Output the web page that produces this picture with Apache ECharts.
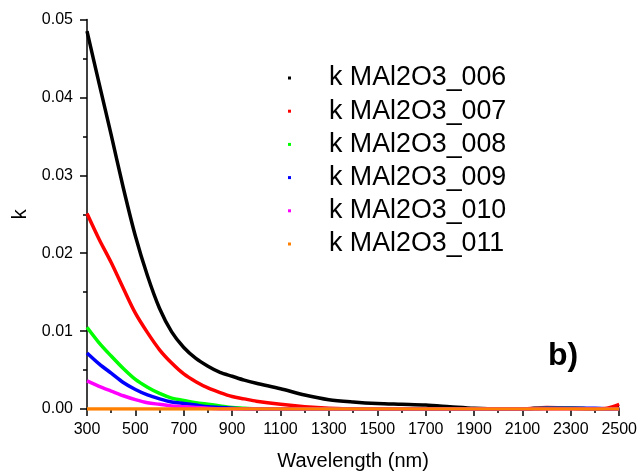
<!DOCTYPE html>
<html>
<head>
<meta charset="utf-8">
<script src="https://cdn.jsdelivr.net/npm/echarts@6/dist/echarts.min.js"></script>
<style>
  html, body { margin: 0; padding: 0; background: #ffffff; }
  #chart { width: 640px; height: 476px; }
</style>
</head>
<body>
<div id="chart"></div>
<script>
// Extinction coefficient k versus wavelength for six MAl2O3 films
const wavelength = [300, 350, 400, 450, 500, 550, 600, 650, 700, 750, 800, 850, 900, 950, 1000,
  1100, 1200, 1300, 1400, 1500, 1600, 1700, 1800, 1900, 2000, 2100, 2200, 2300, 2400, 2450, 2500];

const k006 = [0.0485, 0.0418, 0.0352, 0.0284, 0.0222, 0.0171, 0.0129, 0.0099, 0.0079, 0.0065,
  0.0055, 0.0047, 0.0042, 0.0037, 0.0033,
  0.0026, 0.0018, 0.0012, 0.0009, 0.0007, 0.0006, 0.0005, 0.0003, 0.0001, 0.0000,
  0.0000, 0.0001, 0.0001, 0.0000, 0.0000, 0.0002];
const k007 = [0.0251, 0.0218, 0.0188, 0.0155, 0.0123, 0.0098, 0.0076, 0.0059, 0.0045, 0.0035,
  0.0027, 0.0021, 0.0016, 0.0013, 0.0010,
  0.0006, 0.0003, 0.0001, 0.0000, 0.0000, 0.0000, 0.0000, 0.0000, 0.0000, 0.0000,
  0.0000, 0.0002, 0.0001, 0.0000, 0.0001, 0.0006];
const k008 = [0.0105, 0.0085, 0.0068, 0.0052, 0.0038, 0.0028, 0.0020, 0.0014, 0.0011, 0.0008,
  0.0006, 0.0004, 0.0002, 0.0001, 0.0000,
  0.0000, 0.0000, 0.0000, 0.0000, 0.0000, 0.0000, 0.0000, 0.0000, 0.0000, 0.0000,
  0.0000, 0.0001, 0.0001, 0.0000, 0.0000, 0.0000];
const k009 = [0.0072, 0.0058, 0.0046, 0.0034, 0.0025, 0.0018, 0.0013, 0.0009, 0.0007, 0.0005,
  0.0003, 0.0002, 0.0001, 0.0000, 0.0000,
  0.0000, 0.0000, 0.0000, 0.0000, 0.0000, 0.0000, 0.0000, 0.0000, 0.0000, 0.0000,
  0.0000, 0.0001, 0.0001, 0.0001, 0.0000, 0.0000];
const k010 = [0.0036, 0.0029, 0.0023, 0.0017, 0.0012, 0.0008, 0.0006, 0.0004, 0.0003, 0.0002,
  0.0001, 0.0000, 0.0000, 0.0000, 0.0000,
  0.0000, 0.0000, 0.0000, 0.0000, 0.0000, 0.0000, 0.0000, 0.0000, 0.0000, 0.0000,
  0.0000, 0.0000, 0.0000, 0.0000, 0.0000, 0.0000];
const k011 = [0.0000, 0.0000, 0.0000, 0.0000, 0.0000, 0.0000, 0.0000, 0.0000, 0.0000, 0.0000,
  0.0000, 0.0000, 0.0000, 0.0000, 0.0000,
  0.0000, 0.0000, 0.0000, 0.0000, 0.0000, 0.0000, 0.0000, 0.0000, 0.0000, 0.0000,
  0.0000, 0.0000, 0.0000, 0.0000, 0.0000, 0.0000];

const seriesNames = ['k MAl2O3_006', 'k MAl2O3_007', 'k MAl2O3_008',
  'k MAl2O3_009', 'k MAl2O3_010', 'k MAl2O3_011'];
const seriesValues = [k006, k007, k008, k009, k010, k011];
const seriesColors = ['#000000', '#ff0000', '#00ff00', '#0000ff', '#ff00ff', '#ff8000'];

const FONT = '"Liberation Sans", Arial, Helvetica, sans-serif';

const chart = echarts.init(document.getElementById('chart'), null, { renderer: 'canvas' });

const series = seriesValues.map((vals, i) => ({
  name: seriesNames[i],
  type: 'line',
  data: wavelength.map((w, j) => [w, vals[j]]),
  showSymbol: false,
  smooth: 0.3,
  color: seriesColors[i],
  lineStyle: { width: 3.5, color: seriesColors[i] },
  z: 2 + i,
  animation: false
}));

chart.setOption({
  backgroundColor: '#ffffff',
  animation: false,
  grid: { left: 87, right: 19, top: 19.5, bottom: 64, containLabel: false },
  xAxis: {
    type: 'value',
    min: 300,
    max: 2500,
    interval: 200,
    name: 'Wavelength (nm)',
    nameLocation: 'middle',
    nameGap: 42,
    nameTextStyle: { fontFamily: FONT, fontSize: 20, color: '#000' },
    axisLine: { show: true, onZero: false, lineStyle: { color: '#000', width: 1.5 } },
    axisTick: { show: true, inside: false, length: 7, lineStyle: { color: '#000', width: 1.5 } },
    minorTick: { show: true, splitNumber: 2, length: 4, lineStyle: { color: '#000', width: 1.5 } },
    axisLabel: { fontFamily: FONT, fontSize: 16, color: '#000', margin: 13,
      formatter: v => String(v) },
    splitLine: { show: false }
  },
  yAxis: {
    type: 'value',
    min: 0,
    max: 0.05,
    interval: 0.01,
    name: 'k',
    nameLocation: 'middle',
    nameGap: 56,
    nameRotate: 90,
    nameTextStyle: { fontFamily: FONT, fontSize: 20, color: '#000' },
    axisLine: { show: true, lineStyle: { color: '#000', width: 1.5 } },
    axisTick: { show: true, inside: false, length: 7, lineStyle: { color: '#000', width: 1.5 } },
    minorTick: { show: true, splitNumber: 2, length: 4, lineStyle: { color: '#000', width: 1.5 } },
    axisLabel: {
      fontFamily: FONT, fontSize: 16, color: '#000', margin: 14,
      formatter: v => v.toFixed(2)
    },
    splitLine: { show: false }
  },
  legend: {
    show: true,
    orient: 'vertical',
    left: 288,
    top: 61.5,
    icon: 'rect',
    itemWidth: 3,
    itemHeight: 3,
    itemGap: 0.2,
    padding: 0,
    selectedMode: false,
    textStyle: {
      fontFamily: FONT, fontSize: 26.8, color: '#000',
      lineHeight: 33, padding: [0, 0, 0, 33]
    },
    data: seriesNames
  },
  graphic: [{
    type: 'text',
    left: 548,
    top: 340,
    style: {
      text: 'b)',
      font: 'bold 32px ' + FONT,
      fill: '#000'
    }
  }],
  series: series
});
</script>
</body>
</html>
